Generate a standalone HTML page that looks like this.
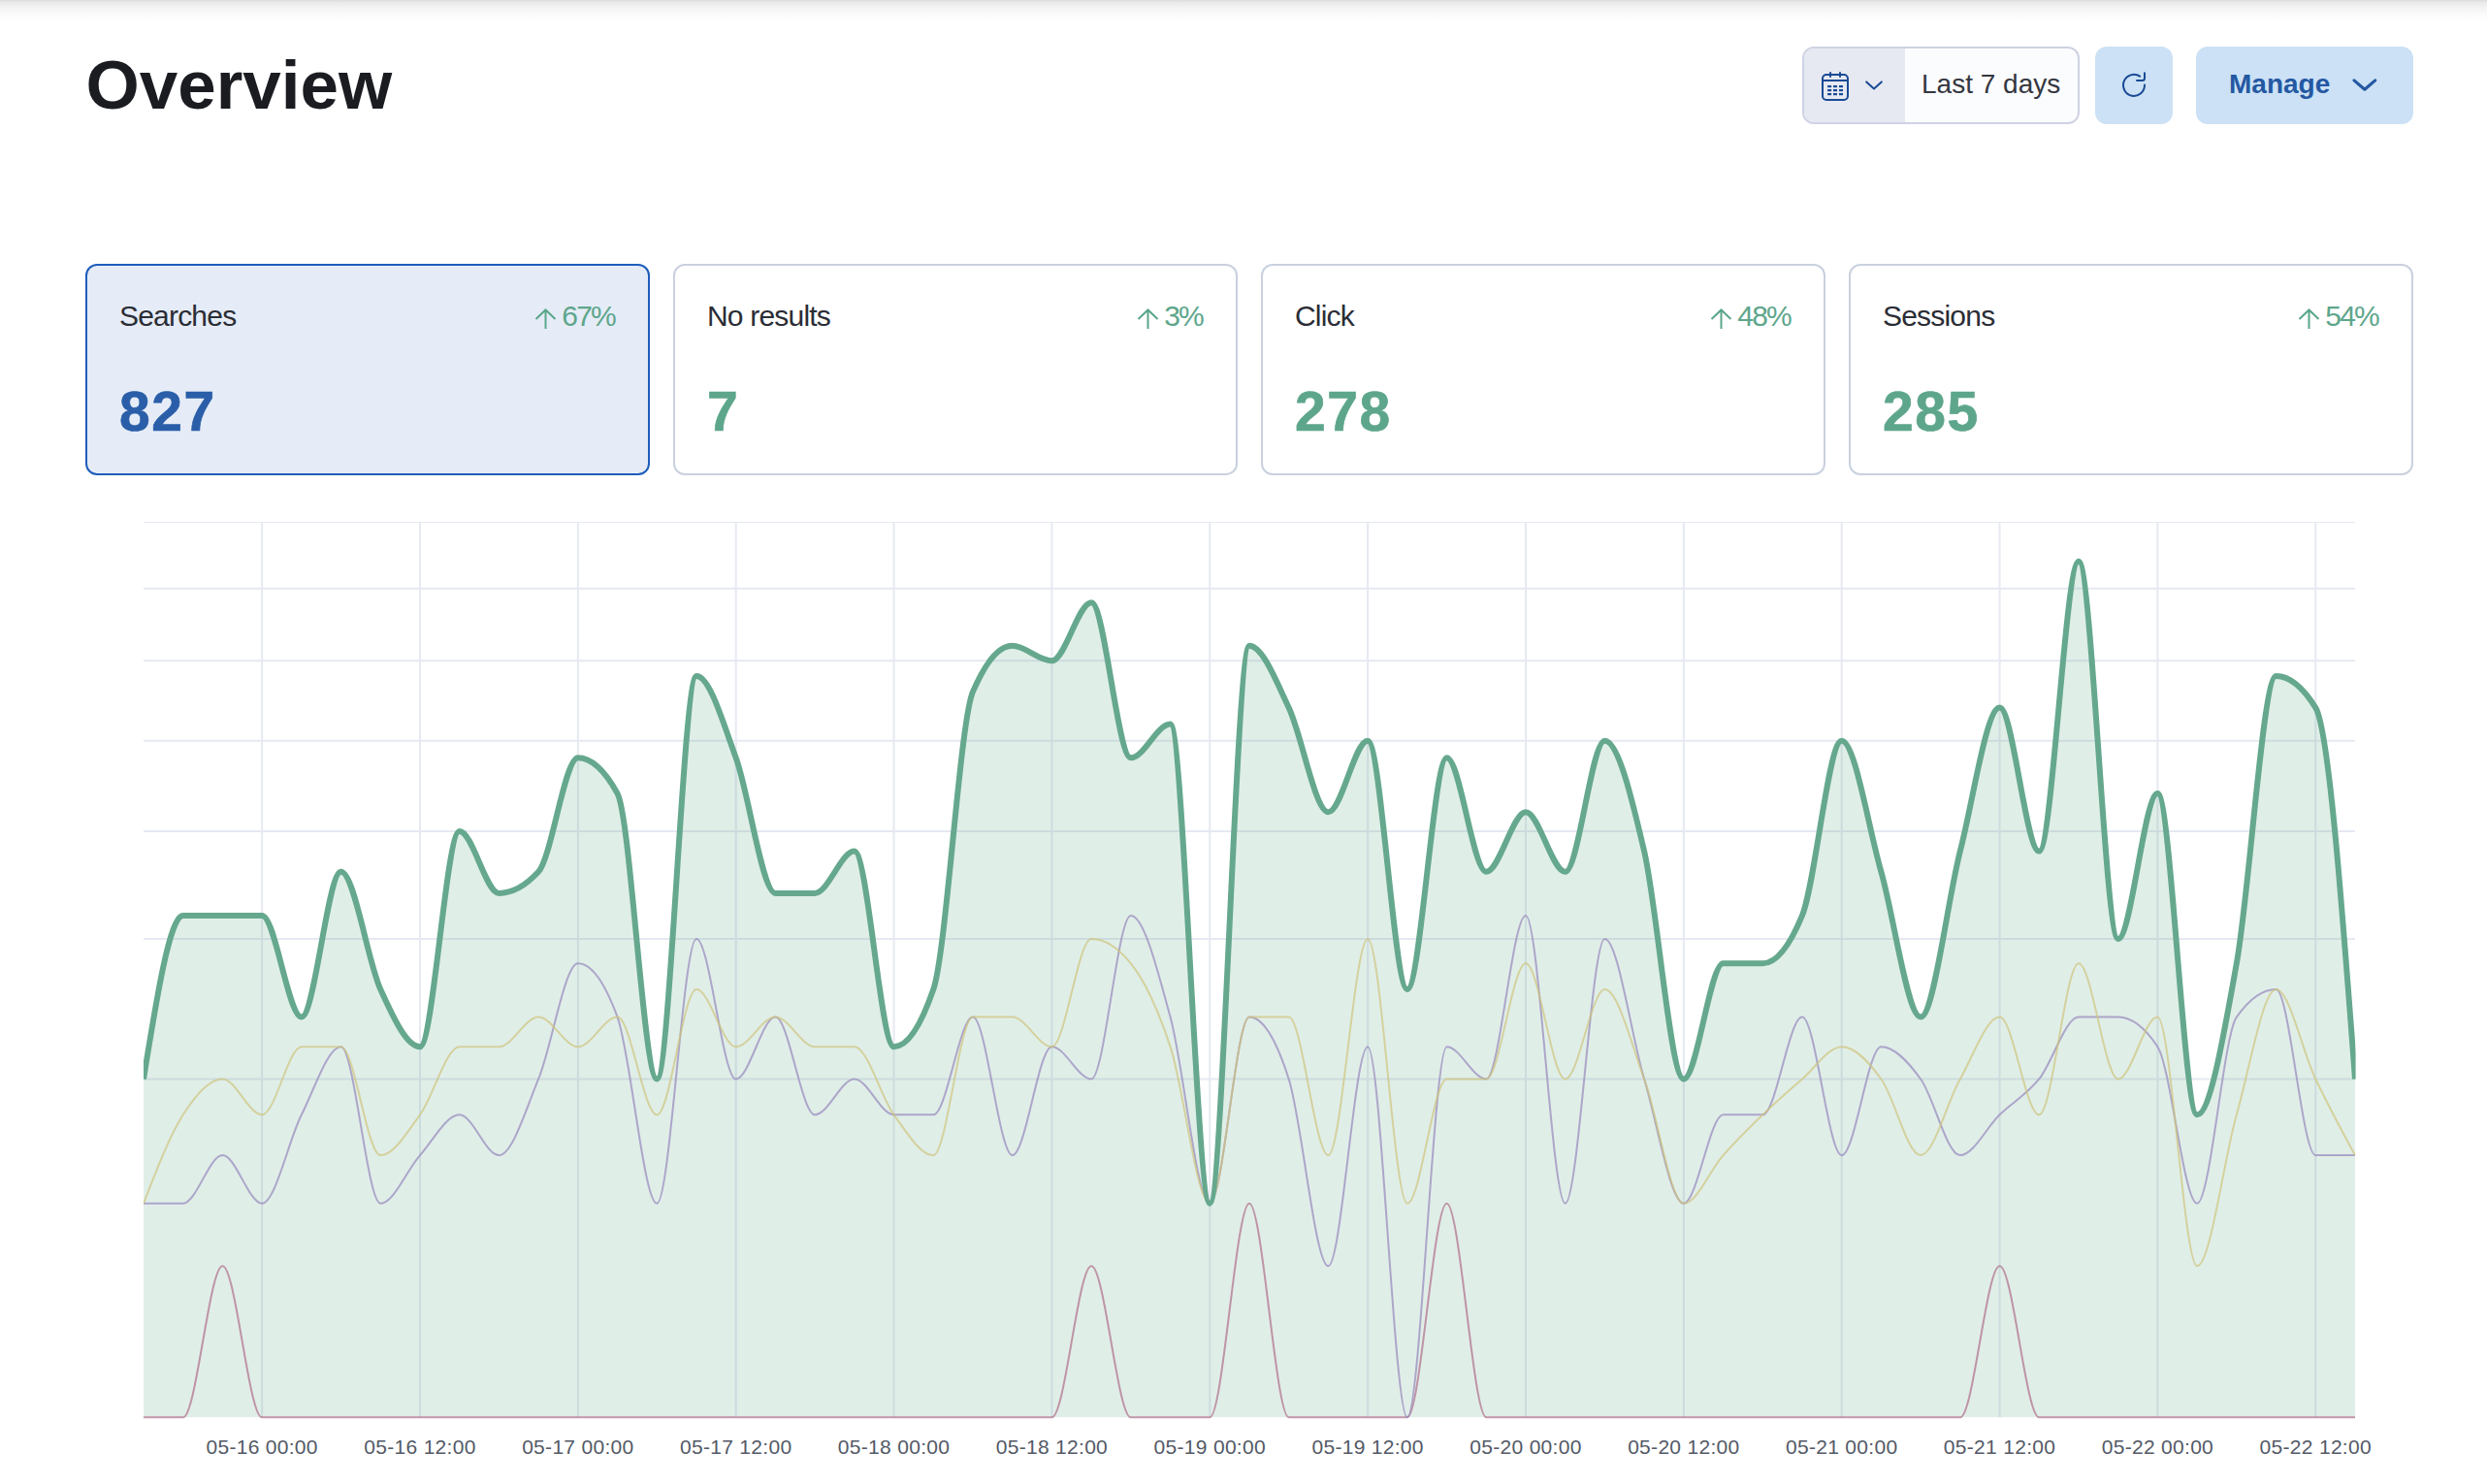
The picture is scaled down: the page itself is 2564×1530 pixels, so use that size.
<!DOCTYPE html>
<html><head><meta charset="utf-8">
<style>
*{box-sizing:border-box;margin:0;padding:0}
html,body{width:2564px;height:1530px;overflow:hidden;background:#fff;font-family:"Liberation Sans",sans-serif;color:#343741}
.abs{position:absolute}
.shadow{position:absolute;left:0;top:0;width:2564px;height:23px;background:linear-gradient(to bottom,rgba(0,0,0,0.14) 0%,rgba(0,0,0,0.085) 10%,rgba(0,0,0,0.05) 30%,rgba(0,0,0,0.02) 60%,rgba(0,0,0,0) 100%)}
.title{position:absolute;left:88.5px;top:47.5px;font-size:71px;font-weight:bold;color:#1a1c21;line-height:80px;white-space:nowrap}
.dp{position:absolute;left:1858px;top:48px;width:286px;height:80px;border:2px solid #ced2e3;border-radius:12px;background:#fbfcfd;overflow:hidden}
.dp .ic{position:absolute;left:0;top:0;width:104px;height:76px;background:#e6e9f2}
.txt28{position:absolute;font-size:28px;line-height:40px;white-space:nowrap}
.rf{position:absolute;left:2160px;top:48px;width:80px;height:80px;border-radius:12px;background:#cce1f5}
.mg{position:absolute;left:2264px;top:48px;width:224px;height:80px;border-radius:12px;background:#cce1f5}
.card{position:absolute;top:272px;width:582px;height:218px;border:2px solid #c9d1df;border-radius:12px;background:#fff}
.card.sel{border-color:#1e5dbb;background:#e5ecf7}
.card .lbl{position:absolute;left:33px;top:32px;font-size:30px;line-height:40px;color:#2b2d35;letter-spacing:-0.8px;white-space:nowrap}
.card .pct{position:absolute;right:34px;top:32px;font-size:30px;line-height:40px;color:#5ea68b;white-space:nowrap}.card .pct span{letter-spacing:-1.8px}
.card .pct .ar{vertical-align:-3.5px;margin-right:4.5px}
.card .num{position:absolute;left:33px;top:109.5px;font-size:57px;line-height:80px;font-weight:bold;color:#5ea68b;letter-spacing:1.5px;-webkit-text-stroke:0.7px #5ea68b;white-space:nowrap}
.card.sel .num{color:#2a5ea8;-webkit-text-stroke:0.7px #2a5ea8}
.chart{position:absolute;left:0;top:0}
.tick{position:absolute;top:1478px;width:200px;margin-left:-100px;text-align:center;font-size:21px;line-height:28px;color:#535966;letter-spacing:0.3px;white-space:nowrap}
</style></head><body>
<div class="shadow"></div>
<div class="title">Overview</div>
<div class="dp"><div class="ic"></div></div>
<div class="txt28" style="left:1981px;top:67px;color:#343741">Last 7 days</div>
<div class="rf"></div>
<div class="mg"></div>
<div class="txt28" style="left:2298px;top:67px;font-weight:bold;color:#2458a2">Manage</div>

<svg class="abs" style="left:0;top:0" width="2564" height="140" viewBox="0 0 2564 140">
 <g fill="none" stroke="#1a4a94" stroke-width="2" stroke-linecap="round" stroke-linejoin="round">
  <rect x="1879" y="77" width="26" height="26" rx="4"/>
  <line x1="1879" y1="83" x2="1905" y2="83"/>
  <line x1="1887" y1="75" x2="1887" y2="79"/>
  <line x1="1897" y1="75" x2="1897" y2="79"/>
  <polyline points="1924.2,84.4 1932,91.4 1939.8,84.4"/>
  <path d="M2206.1,78.7 A11,11 0 1 0 2211,87.6"/>
  <path d="M2211,75.2 V80.5 A2.5,2.5 0 0 1 2208.5,83 H2203"/>
 </g>
 <polyline points="2427,82.9 2437.9,92.2 2448.7,82.9" fill="none" stroke="#2458a2" stroke-width="3.2" stroke-linecap="round" stroke-linejoin="round"/>
 <g fill="#1a4a94">
  <rect x="1884.1" y="88" width="4" height="2.2"/><rect x="1890" y="88" width="4" height="2.2"/><rect x="1896" y="88" width="4" height="2.2"/>
  <rect x="1884.1" y="92" width="4" height="2.2"/><rect x="1890" y="92" width="4" height="2.2"/><rect x="1896" y="92" width="4" height="2.2"/>
  <rect x="1884.1" y="96" width="4" height="2.2"/><rect x="1890" y="96" width="4" height="2.2"/><rect x="1896" y="96" width="4" height="2.2"/>
 </g>
</svg>

<div class="card sel" style="left:88px"><div class="lbl">Searches</div><div class="pct"><svg class="ar" width="24" height="22" viewBox="0 0 24 22"><path d="M11.5 21 V2 M1.5 11 L11.5 1.5 L21.5 11" fill="none" stroke="#5aa689" stroke-width="2"/></svg><span>67%</span></div><div class="num">827</div></div>
<div class="card" style="left:694px"><div class="lbl">No results</div><div class="pct"><svg class="ar" width="24" height="22" viewBox="0 0 24 22"><path d="M11.5 21 V2 M1.5 11 L11.5 1.5 L21.5 11" fill="none" stroke="#5aa689" stroke-width="2"/></svg><span>3%</span></div><div class="num">7</div></div>
<div class="card" style="left:1300px"><div class="lbl">Click</div><div class="pct"><svg class="ar" width="24" height="22" viewBox="0 0 24 22"><path d="M11.5 21 V2 M1.5 11 L11.5 1.5 L21.5 11" fill="none" stroke="#5aa689" stroke-width="2"/></svg><span>48%</span></div><div class="num">278</div></div>
<div class="card" style="left:1906px"><div class="lbl">Sessions</div><div class="pct"><svg class="ar" width="24" height="22" viewBox="0 0 24 22"><path d="M11.5 21 V2 M1.5 11 L11.5 1.5 L21.5 11" fill="none" stroke="#5aa689" stroke-width="2"/></svg><span>54%</span></div><div class="num">285</div></div>


<svg class="chart" width="2564" height="1530" viewBox="0 0 2564 1530">
<defs><clipPath id="cp"><rect x="148.00" y="500" width="2280.58" height="980"/></clipPath></defs>
<g stroke="#e6e9f2" stroke-width="2" fill="none"><line x1="148.0" y1="1112.47" x2="2428.0" y2="1112.47"/><line x1="148.0" y1="967.98" x2="2428.0" y2="967.98"/><line x1="148.0" y1="857.11" x2="2428.0" y2="857.11"/><line x1="148.0" y1="763.65" x2="2428.0" y2="763.65"/><line x1="148.0" y1="681.30" x2="2428.0" y2="681.30"/><line x1="148.0" y1="606.85" x2="2428.0" y2="606.85"/><line x1="148.0" y1="538.50" x2="2428.0" y2="538.50" stroke-width="1"/><line x1="270.14" y1="538.50" x2="270.14" y2="1461.30"/><line x1="433.00" y1="538.50" x2="433.00" y2="1461.30"/><line x1="595.85" y1="538.50" x2="595.85" y2="1461.30"/><line x1="758.71" y1="538.50" x2="758.71" y2="1461.30"/><line x1="921.57" y1="538.50" x2="921.57" y2="1461.30"/><line x1="1084.42" y1="538.50" x2="1084.42" y2="1461.30"/><line x1="1247.28" y1="538.50" x2="1247.28" y2="1461.30"/><line x1="1410.13" y1="538.50" x2="1410.13" y2="1461.30"/><line x1="1572.99" y1="538.50" x2="1572.99" y2="1461.30"/><line x1="1735.85" y1="538.50" x2="1735.85" y2="1461.30"/><line x1="1898.70" y1="538.50" x2="1898.70" y2="1461.30"/><line x1="2061.56" y1="538.50" x2="2061.56" y2="1461.30"/><line x1="2224.41" y1="538.50" x2="2224.41" y2="1461.30"/><line x1="2387.27" y1="538.50" x2="2387.27" y2="1461.30"/></g>
<g clip-path="url(#cp)">
<path d="M148.00,1112.47 C161.57,1028.19 175.14,943.91 188.71,943.91 C202.29,943.91 215.86,943.91 229.43,943.91 C243.00,943.91 256.57,943.91 270.14,943.91 C283.71,943.91 297.28,1048.56 310.86,1048.56 C324.43,1048.56 338.00,898.83 351.57,898.83 C365.14,898.83 378.71,990.01 392.28,1020.07 C405.86,1050.12 419.43,1079.18 433.00,1079.18 C446.57,1079.18 460.14,857.11 473.71,857.11 C487.28,857.11 500.85,920.90 514.43,920.90 C528.00,920.90 541.57,913.54 555.14,898.83 C568.71,884.12 582.28,781.31 595.85,781.31 C609.43,781.31 623.00,793.57 636.57,818.10 C650.14,842.62 663.71,1112.47 677.28,1112.47 C690.85,1112.47 704.42,697.06 718.00,697.06 C731.57,697.06 745.14,744.00 758.71,781.31 C772.28,818.62 785.85,920.90 799.42,920.90 C813.00,920.90 826.57,920.90 840.14,920.90 C853.71,920.90 867.28,877.60 880.85,877.60 C894.42,877.60 907.99,1079.18 921.57,1079.18 C935.14,1079.18 948.71,1059.47 962.28,1020.07 C975.85,980.66 989.42,744.68 1002.99,713.15 C1016.57,681.62 1030.14,665.85 1043.71,665.85 C1057.28,665.85 1070.85,681.30 1084.42,681.30 C1097.99,681.30 1111.56,621.21 1125.14,621.21 C1138.71,621.21 1152.28,781.31 1165.85,781.31 C1179.42,781.31 1192.99,746.42 1206.56,746.42 C1220.14,746.42 1233.71,1240.68 1247.28,1240.68 C1260.85,1240.68 1274.42,665.85 1287.99,665.85 C1301.56,665.85 1315.13,701.02 1328.71,729.60 C1342.28,758.17 1355.85,837.30 1369.42,837.30 C1382.99,837.30 1396.56,763.65 1410.13,763.65 C1423.71,763.65 1437.28,1020.07 1450.85,1020.07 C1464.42,1020.07 1477.99,781.31 1491.56,781.31 C1505.13,781.31 1518.70,898.83 1532.28,898.83 C1545.85,898.83 1559.42,837.30 1572.99,837.30 C1586.56,837.30 1600.13,898.83 1613.70,898.83 C1627.28,898.83 1640.85,763.65 1654.42,763.65 C1667.99,763.65 1681.56,819.46 1695.13,877.60 C1708.70,935.74 1722.27,1112.47 1735.85,1112.47 C1749.42,1112.47 1762.99,993.30 1776.56,993.30 C1790.13,993.30 1803.70,993.30 1817.27,993.30 C1830.85,993.30 1844.42,976.84 1857.99,943.91 C1871.56,910.98 1885.13,763.65 1898.70,763.65 C1912.27,763.65 1925.84,851.35 1939.42,898.83 C1952.99,946.32 1966.56,1048.56 1980.13,1048.56 C1993.70,1048.56 2007.27,930.76 2020.84,877.60 C2034.42,824.44 2047.99,729.60 2061.56,729.60 C2075.13,729.60 2088.70,877.60 2102.27,877.60 C2115.84,877.60 2129.41,578.83 2142.99,578.83 C2156.56,578.83 2170.13,967.98 2183.70,967.98 C2197.27,967.98 2210.84,818.10 2224.41,818.10 C2237.99,818.10 2251.56,1149.30 2265.13,1149.30 C2278.70,1149.30 2292.27,1068.67 2305.84,993.30 C2319.41,917.93 2332.98,697.06 2346.56,697.06 C2360.13,697.06 2373.70,707.90 2387.27,729.60 C2400.84,751.29 2414.41,931.88 2427.98,1112.47 L2427.98,1461.30 L148.00,1461.30 Z" fill="#65a88e" fill-opacity="0.2" stroke="none"/>
<path d="M148.00,1461.30 C161.57,1461.30 175.14,1461.30 188.71,1461.30 C202.29,1461.30 215.86,1305.30 229.43,1305.30 C243.00,1305.30 256.57,1461.30 270.14,1461.30 C283.71,1461.30 297.28,1461.30 310.86,1461.30 C324.43,1461.30 338.00,1461.30 351.57,1461.30 C365.14,1461.30 378.71,1461.30 392.28,1461.30 C405.86,1461.30 419.43,1461.30 433.00,1461.30 C446.57,1461.30 460.14,1461.30 473.71,1461.30 C487.28,1461.30 500.85,1461.30 514.43,1461.30 C528.00,1461.30 541.57,1461.30 555.14,1461.30 C568.71,1461.30 582.28,1461.30 595.85,1461.30 C609.43,1461.30 623.00,1461.30 636.57,1461.30 C650.14,1461.30 663.71,1461.30 677.28,1461.30 C690.85,1461.30 704.42,1461.30 718.00,1461.30 C731.57,1461.30 745.14,1461.30 758.71,1461.30 C772.28,1461.30 785.85,1461.30 799.42,1461.30 C813.00,1461.30 826.57,1461.30 840.14,1461.30 C853.71,1461.30 867.28,1461.30 880.85,1461.30 C894.42,1461.30 907.99,1461.30 921.57,1461.30 C935.14,1461.30 948.71,1461.30 962.28,1461.30 C975.85,1461.30 989.42,1461.30 1002.99,1461.30 C1016.57,1461.30 1030.14,1461.30 1043.71,1461.30 C1057.28,1461.30 1070.85,1461.30 1084.42,1461.30 C1097.99,1461.30 1111.56,1305.30 1125.14,1305.30 C1138.71,1305.30 1152.28,1461.30 1165.85,1461.30 C1179.42,1461.30 1192.99,1461.30 1206.56,1461.30 C1220.14,1461.30 1233.71,1461.30 1247.28,1461.30 C1260.85,1461.30 1274.42,1240.68 1287.99,1240.68 C1301.56,1240.68 1315.13,1461.30 1328.71,1461.30 C1342.28,1461.30 1355.85,1461.30 1369.42,1461.30 C1382.99,1461.30 1396.56,1461.30 1410.13,1461.30 C1423.71,1461.30 1437.28,1461.30 1450.85,1461.30 C1464.42,1461.30 1477.99,1240.68 1491.56,1240.68 C1505.13,1240.68 1518.70,1461.30 1532.28,1461.30 C1545.85,1461.30 1559.42,1461.30 1572.99,1461.30 C1586.56,1461.30 1600.13,1461.30 1613.70,1461.30 C1627.28,1461.30 1640.85,1461.30 1654.42,1461.30 C1667.99,1461.30 1681.56,1461.30 1695.13,1461.30 C1708.70,1461.30 1722.27,1461.30 1735.85,1461.30 C1749.42,1461.30 1762.99,1461.30 1776.56,1461.30 C1790.13,1461.30 1803.70,1461.30 1817.27,1461.30 C1830.85,1461.30 1844.42,1461.30 1857.99,1461.30 C1871.56,1461.30 1885.13,1461.30 1898.70,1461.30 C1912.27,1461.30 1925.84,1461.30 1939.42,1461.30 C1952.99,1461.30 1966.56,1461.30 1980.13,1461.30 C1993.70,1461.30 2007.27,1461.30 2020.84,1461.30 C2034.42,1461.30 2047.99,1305.30 2061.56,1305.30 C2075.13,1305.30 2088.70,1461.30 2102.27,1461.30 C2115.84,1461.30 2129.41,1461.30 2142.99,1461.30 C2156.56,1461.30 2170.13,1461.30 2183.70,1461.30 C2197.27,1461.30 2210.84,1461.30 2224.41,1461.30 C2237.99,1461.30 2251.56,1461.30 2265.13,1461.30 C2278.70,1461.30 2292.27,1461.30 2305.84,1461.30 C2319.41,1461.30 2332.98,1461.30 2346.56,1461.30 C2360.13,1461.30 2373.70,1461.30 2387.27,1461.30 C2400.84,1461.30 2414.41,1461.30 2427.98,1461.30" fill="none" stroke="#af6e8a" stroke-opacity="0.7" stroke-width="2"/>
<path d="M148.00,1240.68 C161.57,1240.68 175.14,1240.68 188.71,1240.68 C202.29,1240.68 215.86,1191.10 229.43,1191.10 C243.00,1191.10 256.57,1240.68 270.14,1240.68 C283.71,1240.68 297.28,1176.22 310.86,1149.30 C324.43,1122.38 338.00,1079.18 351.57,1079.18 C365.14,1079.18 378.71,1240.68 392.28,1240.68 C405.86,1240.68 419.43,1206.33 433.00,1191.10 C446.57,1175.87 460.14,1149.30 473.71,1149.30 C487.28,1149.30 500.85,1191.10 514.43,1191.10 C528.00,1191.10 541.57,1145.44 555.14,1112.47 C568.71,1079.51 582.28,993.30 595.85,993.30 C609.43,993.30 623.00,1011.72 636.57,1048.56 C650.14,1085.40 663.71,1240.68 677.28,1240.68 C690.85,1240.68 704.42,967.98 718.00,967.98 C731.57,967.98 745.14,1112.47 758.71,1112.47 C772.28,1112.47 785.85,1048.56 799.42,1048.56 C813.00,1048.56 826.57,1149.30 840.14,1149.30 C853.71,1149.30 867.28,1112.47 880.85,1112.47 C894.42,1112.47 907.99,1149.30 921.57,1149.30 C935.14,1149.30 948.71,1149.30 962.28,1149.30 C975.85,1149.30 989.42,1048.56 1002.99,1048.56 C1016.57,1048.56 1030.14,1191.10 1043.71,1191.10 C1057.28,1191.10 1070.85,1079.18 1084.42,1079.18 C1097.99,1079.18 1111.56,1112.47 1125.14,1112.47 C1138.71,1112.47 1152.28,943.91 1165.85,943.91 C1179.42,943.91 1192.99,999.10 1206.56,1048.56 C1220.14,1098.03 1233.71,1240.68 1247.28,1240.68 C1260.85,1240.68 1274.42,1048.56 1287.99,1048.56 C1301.56,1048.56 1315.13,1069.87 1328.71,1112.47 C1342.28,1155.08 1355.85,1305.30 1369.42,1305.30 C1382.99,1305.30 1396.56,1079.18 1410.13,1079.18 C1423.71,1079.18 1437.28,1461.30 1450.85,1461.30 C1464.42,1461.30 1477.99,1079.18 1491.56,1079.18 C1505.13,1079.18 1518.70,1112.47 1532.28,1112.47 C1545.85,1112.47 1559.42,943.91 1572.99,943.91 C1586.56,943.91 1600.13,1240.68 1613.70,1240.68 C1627.28,1240.68 1640.85,967.98 1654.42,967.98 C1667.99,967.98 1681.56,1067.02 1695.13,1112.47 C1708.70,1157.92 1722.27,1240.68 1735.85,1240.68 C1749.42,1240.68 1762.99,1149.30 1776.56,1149.30 C1790.13,1149.30 1803.70,1149.30 1817.27,1149.30 C1830.85,1149.30 1844.42,1048.56 1857.99,1048.56 C1871.56,1048.56 1885.13,1191.10 1898.70,1191.10 C1912.27,1191.10 1925.84,1079.18 1939.42,1079.18 C1952.99,1079.18 1966.56,1093.82 1980.13,1112.47 C1993.70,1131.13 2007.27,1191.10 2020.84,1191.10 C2034.42,1191.10 2047.99,1162.40 2061.56,1149.30 C2075.13,1136.20 2088.70,1129.26 2102.27,1112.47 C2115.84,1095.68 2129.41,1048.56 2142.99,1048.56 C2156.56,1048.56 2170.13,1048.56 2183.70,1048.56 C2197.27,1048.56 2210.84,1058.77 2224.41,1079.18 C2237.99,1099.59 2251.56,1240.68 2265.13,1240.68 C2278.70,1240.68 2292.27,1067.56 2305.84,1048.56 C2319.41,1029.56 2332.98,1020.07 2346.56,1020.07 C2360.13,1020.07 2373.70,1191.10 2387.27,1191.10 C2400.84,1191.10 2414.41,1191.10 2427.98,1191.10" fill="none" stroke="#9688bc" stroke-opacity="0.7" stroke-width="2"/>
<path d="M148.00,1240.68 C161.57,1205.68 175.14,1170.67 188.71,1149.30 C202.29,1127.93 215.86,1112.47 229.43,1112.47 C243.00,1112.47 256.57,1149.30 270.14,1149.30 C283.71,1149.30 297.28,1079.18 310.86,1079.18 C324.43,1079.18 338.00,1079.18 351.57,1079.18 C365.14,1079.18 378.71,1191.10 392.28,1191.10 C405.86,1191.10 419.43,1167.95 433.00,1149.30 C446.57,1130.65 460.14,1079.18 473.71,1079.18 C487.28,1079.18 500.85,1079.18 514.43,1079.18 C528.00,1079.18 541.57,1048.56 555.14,1048.56 C568.71,1048.56 582.28,1079.18 595.85,1079.18 C609.43,1079.18 623.00,1048.56 636.57,1048.56 C650.14,1048.56 663.71,1149.30 677.28,1149.30 C690.85,1149.30 704.42,1020.07 718.00,1020.07 C731.57,1020.07 745.14,1079.18 758.71,1079.18 C772.28,1079.18 785.85,1048.56 799.42,1048.56 C813.00,1048.56 826.57,1079.18 840.14,1079.18 C853.71,1079.18 867.28,1079.18 880.85,1079.18 C894.42,1079.18 907.99,1130.65 921.57,1149.30 C935.14,1167.95 948.71,1191.10 962.28,1191.10 C975.85,1191.10 989.42,1048.56 1002.99,1048.56 C1016.57,1048.56 1030.14,1048.56 1043.71,1048.56 C1057.28,1048.56 1070.85,1079.18 1084.42,1079.18 C1097.99,1079.18 1111.56,967.98 1125.14,967.98 C1138.71,967.98 1152.28,976.42 1165.85,993.30 C1179.42,1010.18 1192.99,1037.95 1206.56,1079.18 C1220.14,1120.41 1233.71,1240.68 1247.28,1240.68 C1260.85,1240.68 1274.42,1048.56 1287.99,1048.56 C1301.56,1048.56 1315.13,1048.56 1328.71,1048.56 C1342.28,1048.56 1355.85,1191.10 1369.42,1191.10 C1382.99,1191.10 1396.56,967.98 1410.13,967.98 C1423.71,967.98 1437.28,1240.68 1450.85,1240.68 C1464.42,1240.68 1477.99,1112.47 1491.56,1112.47 C1505.13,1112.47 1518.70,1112.47 1532.28,1112.47 C1545.85,1112.47 1559.42,993.30 1572.99,993.30 C1586.56,993.30 1600.13,1112.47 1613.70,1112.47 C1627.28,1112.47 1640.85,1020.07 1654.42,1020.07 C1667.99,1020.07 1681.56,1075.70 1695.13,1112.47 C1708.70,1149.24 1722.27,1240.68 1735.85,1240.68 C1749.42,1240.68 1762.99,1206.33 1776.56,1191.10 C1790.13,1175.87 1803.70,1162.40 1817.27,1149.30 C1830.85,1136.20 1844.42,1124.16 1857.99,1112.47 C1871.56,1100.79 1885.13,1079.18 1898.70,1079.18 C1912.27,1079.18 1925.84,1093.82 1939.42,1112.47 C1952.99,1131.13 1966.56,1191.10 1980.13,1191.10 C1993.70,1191.10 2007.27,1136.23 2020.84,1112.47 C2034.42,1088.72 2047.99,1048.56 2061.56,1048.56 C2075.13,1048.56 2088.70,1149.30 2102.27,1149.30 C2115.84,1149.30 2129.41,993.30 2142.99,993.30 C2156.56,993.30 2170.13,1112.47 2183.70,1112.47 C2197.27,1112.47 2210.84,1048.56 2224.41,1048.56 C2237.99,1048.56 2251.56,1305.30 2265.13,1305.30 C2278.70,1305.30 2292.27,1196.84 2305.84,1149.30 C2319.41,1101.76 2332.98,1020.07 2346.56,1020.07 C2360.13,1020.07 2373.70,1083.97 2387.27,1112.47 C2400.84,1140.98 2414.41,1166.04 2427.98,1191.10" fill="none" stroke="#cfc57e" stroke-opacity="0.7" stroke-width="2"/>
<path d="M148.00,1112.47 C161.57,1028.19 175.14,943.91 188.71,943.91 C202.29,943.91 215.86,943.91 229.43,943.91 C243.00,943.91 256.57,943.91 270.14,943.91 C283.71,943.91 297.28,1048.56 310.86,1048.56 C324.43,1048.56 338.00,898.83 351.57,898.83 C365.14,898.83 378.71,990.01 392.28,1020.07 C405.86,1050.12 419.43,1079.18 433.00,1079.18 C446.57,1079.18 460.14,857.11 473.71,857.11 C487.28,857.11 500.85,920.90 514.43,920.90 C528.00,920.90 541.57,913.54 555.14,898.83 C568.71,884.12 582.28,781.31 595.85,781.31 C609.43,781.31 623.00,793.57 636.57,818.10 C650.14,842.62 663.71,1112.47 677.28,1112.47 C690.85,1112.47 704.42,697.06 718.00,697.06 C731.57,697.06 745.14,744.00 758.71,781.31 C772.28,818.62 785.85,920.90 799.42,920.90 C813.00,920.90 826.57,920.90 840.14,920.90 C853.71,920.90 867.28,877.60 880.85,877.60 C894.42,877.60 907.99,1079.18 921.57,1079.18 C935.14,1079.18 948.71,1059.47 962.28,1020.07 C975.85,980.66 989.42,744.68 1002.99,713.15 C1016.57,681.62 1030.14,665.85 1043.71,665.85 C1057.28,665.85 1070.85,681.30 1084.42,681.30 C1097.99,681.30 1111.56,621.21 1125.14,621.21 C1138.71,621.21 1152.28,781.31 1165.85,781.31 C1179.42,781.31 1192.99,746.42 1206.56,746.42 C1220.14,746.42 1233.71,1240.68 1247.28,1240.68 C1260.85,1240.68 1274.42,665.85 1287.99,665.85 C1301.56,665.85 1315.13,701.02 1328.71,729.60 C1342.28,758.17 1355.85,837.30 1369.42,837.30 C1382.99,837.30 1396.56,763.65 1410.13,763.65 C1423.71,763.65 1437.28,1020.07 1450.85,1020.07 C1464.42,1020.07 1477.99,781.31 1491.56,781.31 C1505.13,781.31 1518.70,898.83 1532.28,898.83 C1545.85,898.83 1559.42,837.30 1572.99,837.30 C1586.56,837.30 1600.13,898.83 1613.70,898.83 C1627.28,898.83 1640.85,763.65 1654.42,763.65 C1667.99,763.65 1681.56,819.46 1695.13,877.60 C1708.70,935.74 1722.27,1112.47 1735.85,1112.47 C1749.42,1112.47 1762.99,993.30 1776.56,993.30 C1790.13,993.30 1803.70,993.30 1817.27,993.30 C1830.85,993.30 1844.42,976.84 1857.99,943.91 C1871.56,910.98 1885.13,763.65 1898.70,763.65 C1912.27,763.65 1925.84,851.35 1939.42,898.83 C1952.99,946.32 1966.56,1048.56 1980.13,1048.56 C1993.70,1048.56 2007.27,930.76 2020.84,877.60 C2034.42,824.44 2047.99,729.60 2061.56,729.60 C2075.13,729.60 2088.70,877.60 2102.27,877.60 C2115.84,877.60 2129.41,578.83 2142.99,578.83 C2156.56,578.83 2170.13,967.98 2183.70,967.98 C2197.27,967.98 2210.84,818.10 2224.41,818.10 C2237.99,818.10 2251.56,1149.30 2265.13,1149.30 C2278.70,1149.30 2292.27,1068.67 2305.84,993.30 C2319.41,917.93 2332.98,697.06 2346.56,697.06 C2360.13,697.06 2373.70,707.90 2387.27,729.60 C2400.84,751.29 2414.41,931.88 2427.98,1112.47" fill="none" stroke="#65a88e" stroke-width="6" stroke-linejoin="round"/>
</g>
</svg>
<div class="tick" style="left:270.14px">05-16 00:00</div><div class="tick" style="left:433.00px">05-16 12:00</div><div class="tick" style="left:595.85px">05-17 00:00</div><div class="tick" style="left:758.71px">05-17 12:00</div><div class="tick" style="left:921.57px">05-18 00:00</div><div class="tick" style="left:1084.42px">05-18 12:00</div><div class="tick" style="left:1247.28px">05-19 00:00</div><div class="tick" style="left:1410.13px">05-19 12:00</div><div class="tick" style="left:1572.99px">05-20 00:00</div><div class="tick" style="left:1735.85px">05-20 12:00</div><div class="tick" style="left:1898.70px">05-21 00:00</div><div class="tick" style="left:2061.56px">05-21 12:00</div><div class="tick" style="left:2224.41px">05-22 00:00</div><div class="tick" style="left:2387.27px">05-22 12:00</div>
</body></html>
